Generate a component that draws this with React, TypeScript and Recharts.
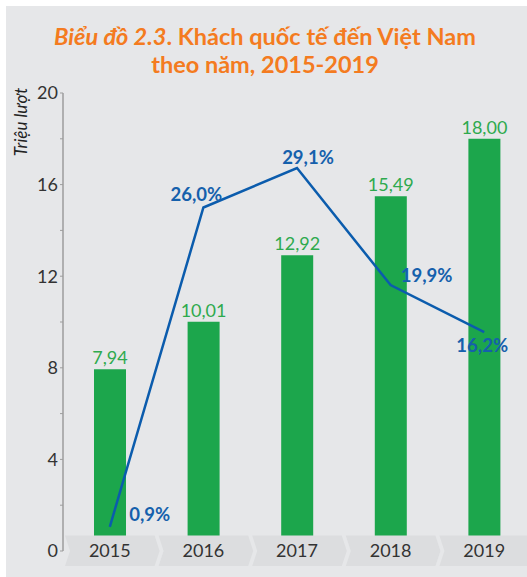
import React from 'react';
import { ComposedChart, Bar, Line, XAxis, YAxis, LabelList } from 'recharts';

const years = ['2015', '2016', '2017', '2018', '2019'];
const visitors = [7.94, 10.01, 12.92, 15.49, 18.0];
const growth = [0.9, 26.0, 29.1, 19.9, 16.2];
const yTicks = [0, 2, 4, 6, 8, 10, 12, 14, 16, 18, 20];

// where each growth label sits relative to its point
const growthLabelOffsets = [
  [40, -12],
  [-7, -13],
  [11, -11],
  [36, -10],
  [-2, 13],
];

const rows = years.map((year, i) => ({ year, visitors: visitors[i], growth: growth[i] }));

const FONT = 'Lato, "Noto Sans", sans-serif';
const GRAY = '#9d9d9d';

function YTick(props: any) {
  const { x, y, payload } = props;
  if (payload.value % 4 !== 0) return null;
  return (
    <text x={x} y={y} dy="0.36em" textAnchor="end" fontSize={18} fill="#333" fontFamily={FONT}>
      {payload.value}
    </text>
  );
}

function YearTick(props: any) {
  const { x, y, payload } = props;
  const half = 44.8;
  const top = y - 15.5;
  const mid = y;
  const bottom = y + 15;
  const points = [
    [x - half, top],
    [x + half, top],
    [x + half + 5, mid],
    [x + half, bottom],
    [x - half, bottom],
    [x - half + 5, mid],
  ]
    .map((p) => p.join(','))
    .join(' ');
  return (
    <g>
      <polygon points={points} fill="#dcdddf" />
      <text x={x} y={y + 6} textAnchor="middle" fontSize={18} fill="#333" fontFamily={FONT}>
        {payload.value}
      </text>
    </g>
  );
}

function GrowthLabel(props: any) {
  const { x, y, value, index } = props;
  const [dx, dy] = growthLabelOffsets[index] || [0, -12];
  return (
    <text
      x={x + dx}
      y={y + dy}
      dy="0.36em"
      textAnchor="middle"
      fontSize={18.5}
      fontWeight={700}
      fill="#1560ac"
      fontFamily={FONT}
    >
      {value.toFixed(1).replace('.', ',')}%
    </text>
  );
}

function UnitLabel(props: any) {
  const { viewBox } = props;
  const cx = viewBox.x + 27;
  const cy = viewBox.y + 29;
  return (
    <text
      x={cx}
      y={cy}
      transform={`rotate(-90, ${cx}, ${cy})`}
      textAnchor="middle"
      fontSize={17}
      fontStyle="italic"
      fill="#222"
      fontFamily={FONT}
    >
      Triệu lượt
    </text>
  );
}

export default function App() {
  return (
    <div style={{ position: 'absolute', left: 0, top: 0, width: 527, height: 577, overflow: 'hidden', background: '#fff' }}>
      <div style={{ position: 'absolute', left: 6, top: 6, right: 0, bottom: 0, background: '#e6e7e9' }} />
      <div
        style={{
          position: 'absolute',
          left: 0,
          top: 22,
          width: 530,
          textAlign: 'center',
          fontFamily: FONT,
          fontSize: 23.5,
          lineHeight: '28px',
          fontWeight: 700,
          color: '#f47b20',
        }}
      >
        <div>
          <i>Biểu đồ 2.3</i>. Khách quốc tế đến Việt Nam
        </div>
        <div>theo năm, 2015-2019</div>
      </div>
      <div style={{ position: 'absolute', left: 0, top: 0 }}>
        <ComposedChart width={531} height={577} data={rows} margin={{ top: 93, right: 0, bottom: 0, left: 0 }}>
          <YAxis
            yAxisId="left"
            width={63}
            domain={[0, 20]}
            ticks={yTicks}
            interval={0}
            axisLine={{ stroke: GRAY, strokeWidth: 1.5 }}
            tickLine={{ stroke: GRAY }}
            tickSize={3}
            tick={<YTick />}
            label={<UnitLabel />}
          />
          <YAxis yAxisId="right" orientation="right" domain={[-1, 35]} hide />
          <Bar yAxisId="left" dataKey="visitors" fill="#1ca64c" barSize={32} isAnimationActive={false}>
            <LabelList
              dataKey="visitors"
              position="top"
              fill="#2eaa4e"
              fontSize={18}
              fontFamily={FONT}
              formatter={(v: any) => Number(v).toFixed(2).replace('.', ',')}
            />
          </Bar>
          <XAxis
            dataKey="year"
            height={26}
            axisLine={false}
            tickLine={false}
            tickSize={0}
            tickMargin={0}
            interval={0}
            tick={<YearTick />}
          />
          <Line
            yAxisId="right"
            dataKey="growth"
            stroke="#0b5cad"
            strokeWidth={2.5}
            dot={false}
            isAnimationActive={false}
          >
            <LabelList dataKey="growth" content={<GrowthLabel />} />
          </Line>
        </ComposedChart>
      </div>
    </div>
  );
}
